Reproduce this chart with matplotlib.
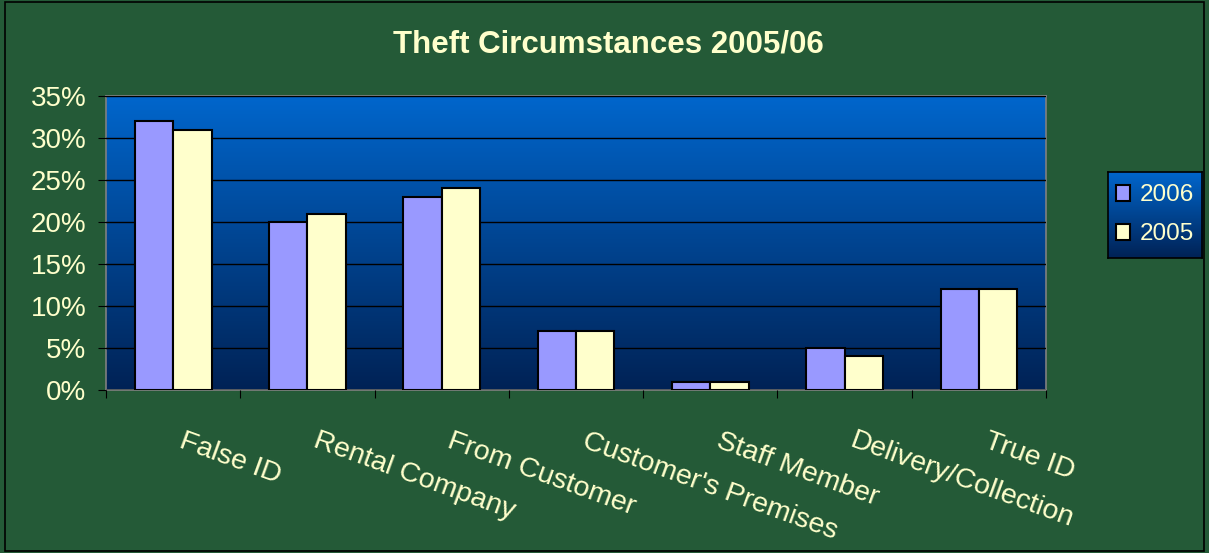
import matplotlib.pyplot as plt
import numpy as np
from matplotlib.patches import Rectangle

# Data (percent)
categories = ["False ID", "Rental Company", "From Customer", "Customer's Premises",
              "Staff Member", "Delivery/Collection", "True ID"]
vals_2006 = [32, 20, 23, 7, 1, 5, 12]
vals_2005 = [31, 21, 24, 7, 1, 4, 12]
yticks = [0, 5, 10, 15, 20, 25, 30, 35]

txt = "#FFFFCC"
plt.rcParams["font.family"] = ["Liberation Sans", "DejaVu Sans"]

fig = plt.figure(figsize=(12.09, 5.53), dpi=100)
fig.patch.set_facecolor("#245a37")
fig.patches.append(Rectangle((0.004, 0.004), 0.992, 0.992, transform=fig.transFigure,
                             fill=False, edgecolor="black", lw=1.2))

ax = fig.add_axes([0.0877, 0.2948, 0.7775, 0.5316])

# blue gradient plot area
grad = np.linspace(0, 1, 256).reshape(-1, 1)
top = np.array([0, 102, 204]) / 255
bot = np.array([0, 34, 85]) / 255
img = top[None, None, :] * (1 - grad[:, :, None]) + bot[None, None, :] * grad[:, :, None]
ax.imshow(img, extent=[0, 1, 0, 1], transform=ax.transAxes, aspect="auto", zorder=0)

x = np.arange(len(categories))
w = 1 / 3.5
ax.bar(x - w / 2, vals_2006, w, color="#9999FF", edgecolor="black", lw=1.5, label="2006", zorder=3)
ax.bar(x + w / 2, vals_2005, w, color="#FFFFCC", edgecolor="black", lw=1.5, label="2005", zorder=3)

ax.set_xlim(-0.5, len(categories) - 0.5)
ax.set_ylim(0, 35)
ax.set_yticks(yticks)
ax.set_yticklabels([f"{t}%" for t in yticks], fontsize=20, color=txt)
ax.yaxis.grid(True, color="black", lw=1, zorder=1)
ax.set_axisbelow(False)

ax.set_xticks(np.arange(len(categories) + 1) - 0.5)
ax.set_xticklabels([])
ax.tick_params(axis="x", length=6, color="black", direction="out")
ax.tick_params(axis="y", length=6, color="black", direction="out", pad=8)
for s in ax.spines.values():
    s.set_color("#808080")
    s.set_linewidth(1.2)

for i, c in enumerate(categories):
    ax.annotate(c, xy=(i, 0), xycoords="data", xytext=(5, -36), textcoords="offset points",
                rotation=-20, rotation_mode="anchor", ha="left", va="center",
                fontsize=20.5, color=txt)

fig.text(0.503, 0.919, "Theft Circumstances 2005/06", ha="center", va="center",
         fontsize=22.5, fontweight="bold", color=txt)

# legend box with gradient
lax = fig.add_axes([0.9165, 0.5335, 0.0778, 0.1555])
lax.imshow(img, extent=[0, 1, 0, 1], aspect="auto")
lax.set_xticks([])
lax.set_yticks([])
for s in lax.spines.values():
    s.set_color("black")
    s.set_linewidth(1.2)
h, l = ax.get_legend_handles_labels()
leg = lax.legend(h, l, loc="center", frameon=False, fontsize=17.5, labelcolor=txt,
                 handlelength=0.6, handleheight=0.6, handletextpad=0.4, labelspacing=0.7,
                 borderpad=0.2)

fig.savefig("out.png", dpi=100, facecolor=fig.get_facecolor())
